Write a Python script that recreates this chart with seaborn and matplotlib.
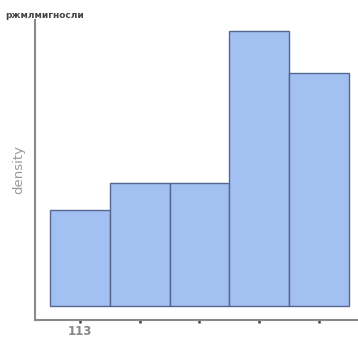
import matplotlib
matplotlib.use('Agg')
import matplotlib.pyplot as plt
import seaborn as sns
import pandas as pd

# Data
bin_centers = [113, 114, 115, 116, 117]
densities = [0.35, 0.447, 0.447, 1.0, 0.847]
tick_labels = ['113', '', '', '', '']
title = 'ржмлмигносли'

sns.set_style('white')
plt.rcParams['font.family'] = ['DejaVu Sans']

df = pd.DataFrame({'value': bin_centers, 'density': densities})

fig = plt.figure(figsize=(3.58, 3.38), dpi=100)
ax = fig.add_axes([35 / 358, 18 / 338, 323 / 358, 300 / 338])

sns.histplot(data=df, x='value', weights='density', binwidth=1, binrange=(112.5, 117.5),
             color='#a3c0f2', edgecolor='#56678f', linewidth=1.0, alpha=1.0, ax=ax)

ax.set_xlim(112.25, 117.65)
ax.set_ylim(-0.051, 1.04)
ax.set_xticks(bin_centers)
ax.set_xticklabels(tick_labels, color='#888888', fontsize=8.5, fontweight='bold')
ax.set_yticks([])
ax.tick_params(axis='x', bottom=True, length=2.5, width=1.8, color='#444444', pad=1, direction='out')
ax.set_xlabel('')
ax.set_ylabel('density', color='#999999', fontsize=9.5, labelpad=7)

for side in ['top', 'right']:
    ax.spines[side].set_visible(False)
for side in ['left', 'bottom']:
    ax.spines[side].set_color('#8a8a8a')
    ax.spines[side].set_linewidth(1.5)

fig.text(5 / 358, 1 - 15 / 338, title, fontsize=6.5, fontweight='bold', color='#444444', va='center')

fig.savefig('out.png', dpi=100)
